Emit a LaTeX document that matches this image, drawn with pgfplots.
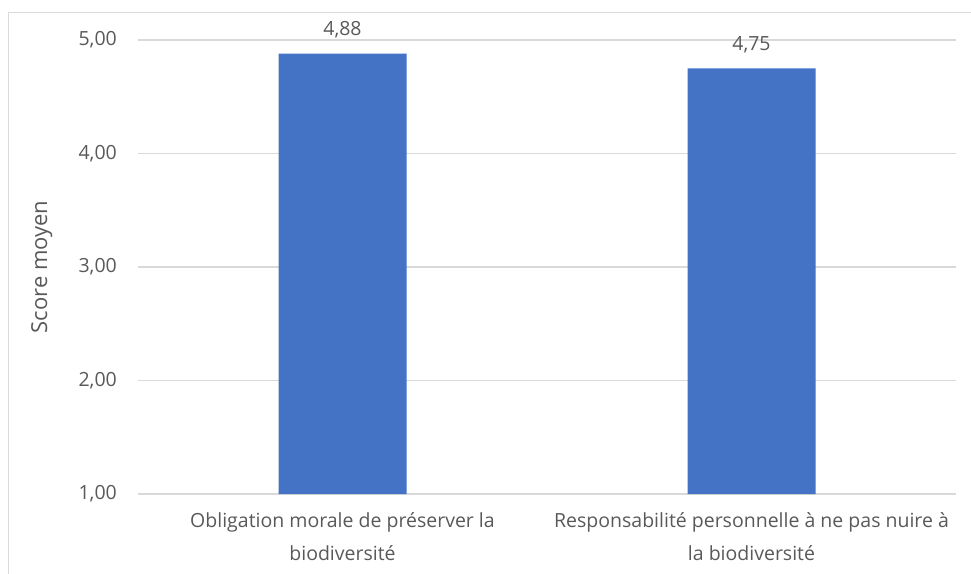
\documentclass[border=0pt]{standalone}
\usepackage{pgfplots}
\pgfplotsset{compat=1.18}
\usepackage{fontspec}
\setmainfont{Open Sans}
\definecolor{txt}{HTML}{595959}
\definecolor{grd}{HTML}{D9D9D9}
\definecolor{bar}{HTML}{4472C4}
\begin{document}
\begin{tikzpicture}[x=1pt,y=1pt]
\path[use as bounding box] (0,0) rectangle (971,573);
\draw[grd, line width=1.2pt] (8.5,-1) -- (8.5,560.5) -- (972,560.5);
\begin{axis}[
  at={(138pt,79pt)}, anchor=south west,
  scale only axis, width=818pt, height=454pt,
  ybar, bar width=128pt,
  xmin=-0.5, xmax=1.5, ymin=1, ymax=5,
  xtick={0,1},
  xticklabels={{Obligation morale de préserver la\\biodiversité},{Responsabilité personnelle à ne pas nuire à\\la biodiversité}},
  ytick={1,2,3,4,5},
  axis line style={draw=none},
  major tick length=0pt,
  ymajorgrids, grid style={grd, line width=1.2pt},
  /pgf/number format/fixed, /pgf/number format/fixed zerofill,
  /pgf/number format/precision=2, /pgf/number format/use comma,
  /pgf/number format/assume math mode=true,
  font=\fontsize{19.5}{33}\selectfont,
  tick label style={text=txt},
  yticklabel style={anchor=east, inner sep=0pt, xshift=-21pt},
  xticklabel style={anchor=north, inner sep=0pt, yshift=-18pt, align=center},
  ylabel={Score moyen},
  every axis y label/.style={at={(axis description cs:-0.1175,0.5)}, rotate=90, anchor=center, text=txt, font=\fontsize{22}{26}\selectfont},
  nodes near coords,
  nodes near coords style={anchor=south, inner sep=0pt, yshift=15pt, text=txt},
]
\addplot[fill=bar, draw=none] coordinates {(0,4.88) (1,4.75)};
\end{axis}
\end{tikzpicture}
\end{document}
